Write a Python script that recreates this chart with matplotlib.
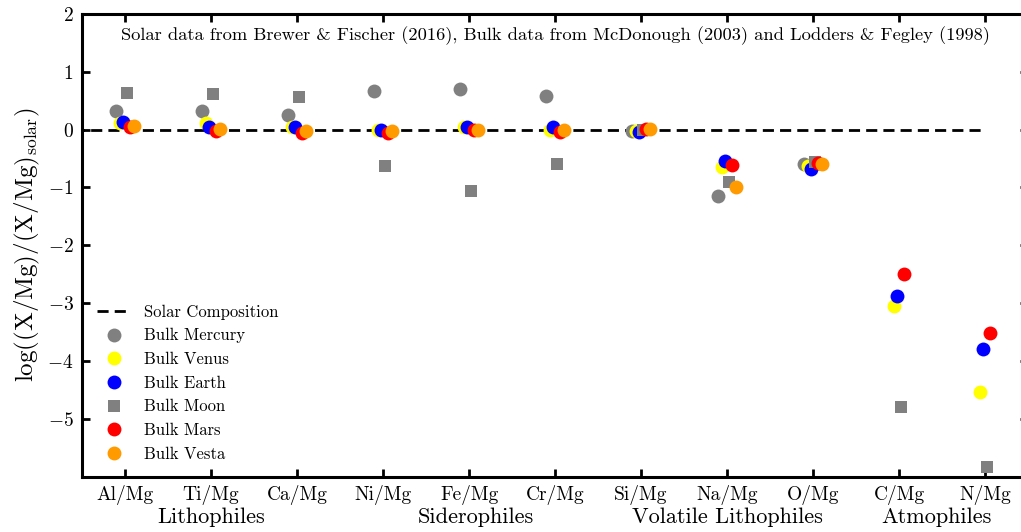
import numpy as np
import matplotlib
matplotlib.use('Agg')
from matplotlib import pyplot as plt
from matplotlib import transforms

plt.rcParams['font.family'] = 'serif'
plt.rcParams['font.serif'] = ['cmr10']
plt.rcParams['mathtext.fontset'] = 'cm'
plt.rcParams['axes.formatter.use_mathtext'] = True

# element ratios on the x axis
ratios = ['Al/Mg', 'Ti/Mg', 'Ca/Mg', 'Ni/Mg', 'Fe/Mg', 'Cr/Mg', 'Si/Mg', 'Na/Mg', 'O/Mg', 'C/Mg', 'N/Mg']
groups = ['Lithophiles', 'Siderophiles', 'Volatile Lithophiles', 'Atmophiles']
groupPos = [1.0, 4.08, 7.0, 9.43]

# log((X/Mg)/(X/Mg)_solar), nan where no data
nan = np.nan
mercury = [0.33, 0.32, 0.26, 0.67, 0.71, 0.59, -0.02, -1.15, -0.60, nan, nan]
venus = [0.12, 0.11, 0.04, 0.00, 0.04, 0.00, -0.02, -0.65, -0.62, -3.05, -4.54]
earth = [0.14, 0.05, 0.05, 0.00, 0.04, 0.05, -0.04, -0.55, -0.68, -2.88, -3.80]
moon = [0.64, 0.62, 0.56, -0.62, -1.06, -0.60, -0.01, -0.90, -0.56, -4.80, -5.83]
mars = [0.04, -0.03, -0.05, -0.05, 0.00, -0.04, 0.02, -0.61, -0.58, -2.49, -3.51]
vesta = [0.07, 0.02, -0.02, -0.03, 0.00, 0.00, 0.01, -0.99, -0.59, nan, nan]

solarX = [-1, 10]
solarY = [0, 0]

bodies = [
    ('Bulk Mercury', mercury, 'o', 'gray', -0.10),
    ('Bulk Venus', venus, 'o', 'yellow', -0.06),
    ('Bulk Earth', earth, 'o', 'blue', -0.02),
    ('Bulk Moon', moon, 's', 'gray', 0.02),
    ('Bulk Mars', mars, 'o', 'red', 0.06),
    ('Bulk Vesta', vesta, 'o', '#ff9a00', 0.10),
]

fig = plt.figure(figsize=(10.21, 5.32), dpi=100)
ax = fig.add_axes([0.0803, 0.104, 0.9266, 0.8697])

x = np.arange(len(ratios))
ax.plot(solarX, solarY, 'k--', lw=2, dashes=(4, 2.2), label='Solar Composition', zorder=1)
for name, vals, mk, col, dx in bodies:
    ms = 8.5 if mk == 's' else 10
    ax.plot(x + dx, vals, linestyle='none', marker=mk, ms=ms, color=col, mew=0, label=name, zorder=2)

ax.set_xlim(-0.5, 10.5)
ax.set_ylim(-6, 2)
ax.set_xticks(x)
ax.set_xticklabels(ratios)
ax.set_yticks(range(-5, 3))
ax.tick_params(direction='in', top=True, right=True, length=6, width=2, labelsize=14)
ax.tick_params(axis='x', pad=6)
ax.tick_params(axis='y', pad=6)
for s in ax.spines.values():
    s.set_linewidth(2.2)

ax.set_ylabel(r'$\log((\mathrm{X/Mg})/(\mathrm{X/Mg})_{\mathrm{solar}})$', fontsize=18, labelpad=4)

trans = transforms.blended_transform_factory(ax.transData, ax.transAxes)
for g, gx in zip(groups, groupPos):
    ax.text(gx, -0.087, g, transform=trans, ha='center', va='center', fontsize=16)

ax.text(0.5, 0.953, 'Solar data from Brewer & Fischer (2016), Bulk data from McDonough (2003) and Lodders & Fegley (1998)',
        transform=ax.transAxes, ha='center', va='center', fontsize=13.3)

ax.legend(loc='lower left', frameon=False, fontsize=12, labelspacing=0.5)

fig.savefig('out.png', dpi=100)
